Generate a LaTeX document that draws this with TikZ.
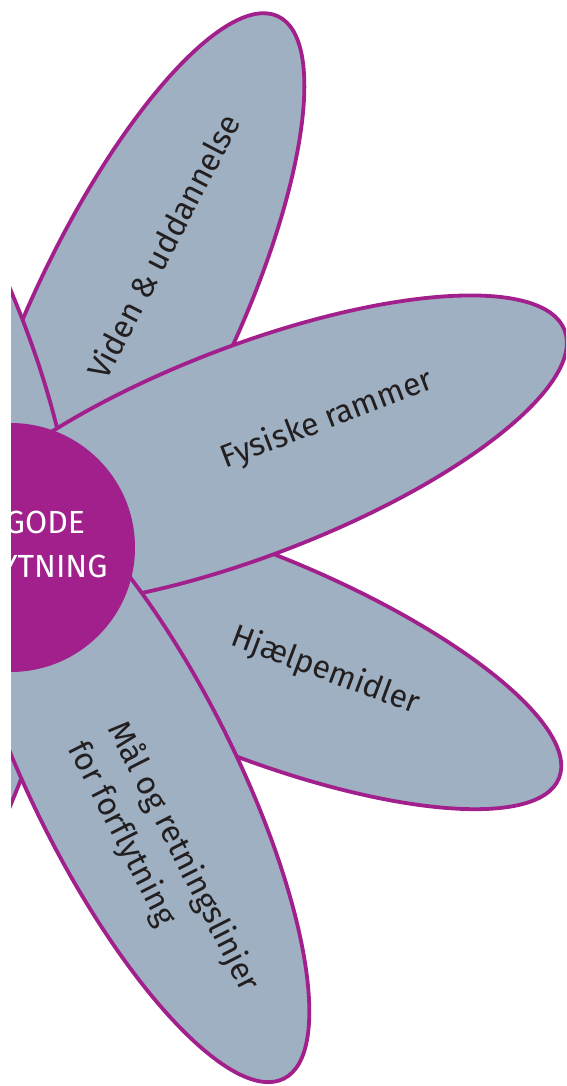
\documentclass[tikz,border=0pt]{standalone}
\usepackage{fontspec}
\setmainfont{Fira Sans}[Ligatures=NoCommon]
\begin{document}
\begin{tikzpicture}[x=1pt,y=-1pt]
\definecolor{pu}{RGB}{162,32,140}
\definecolor{pg}{RGB}{158,176,193}
\definecolor{tx}{RGB}{35,31,32}
\tikzset{
  petal/.style={fill=pg, draw=pu, line width=3.8pt},
  lbl/.style={text=tx, font=\fontsize{32}{44}\selectfont, inner sep=0pt},
  ctr/.style={text=white, font=\fontsize{32}{44}\selectfont, inner sep=0pt}
}
\useasboundingbox (0,0) rectangle (566,1086);
\begin{scope}
\clip (11,0) rectangle (566,1086);
% petals (bottom to top)
\path[petal, rotate around={64.5:(133,320.5)}] (133,320.5) ellipse (337 and 101);
\path[petal, rotate around={-22:(246.5,652)}] (246.5,652) ellipse (337 and 101);
\path[petal, rotate around={114:(-94.4,311.8)}] (-94.4,311.8) ellipse (337 and 105);
\path[petal, rotate around={-114:(-94.4,783.2)}] (-94.4,783.2) ellipse (337 and 105);
\path[petal, rotate around={21:(250,451)}] (250,451) ellipse (337 and 105);
\path[petal, rotate around={-63.5:(133.4,777.1)}] (133.4,777.1) ellipse (337 and 102);
% center
\node[circle, fill=pu, minimum size=249pt, inner sep=0pt] (hub) at (10.5,547.5) {};
\node[ctr, anchor=base] (hub1) at (11,533) {DEN GODE};
\node[ctr, anchor=base] (hub2) at (11,577) {FORFLYTNING};
\end{scope}
% labels
\node[lbl, rotate=62.5] (viden) at (163,246) {Viden \& uddannelse};
\node[lbl, rotate=21] (fysiske) at (327,420) {Fysiske rammer};
\node[lbl, rotate=-20.5] (hjaelp) at (325.5,671) {Hjælpemidler};
\node[lbl, rotate=-63, anchor=north west, align=left] (maal) at (131,716) {Mål og retningslinjer\\for forflytning};
\end{tikzpicture}
\end{document}
